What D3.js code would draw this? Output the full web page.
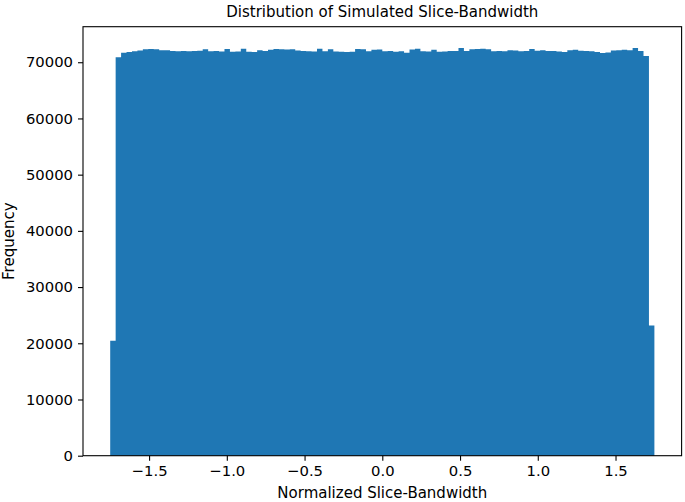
<!DOCTYPE html>
<html>
<head>
<meta charset="utf-8">
<script src="https://cdn.jsdelivr.net/npm/d3@7"></script>
<style>
  html, body { margin: 0; padding: 0; background: #fff; }
  svg { display: block; font-family: "DejaVu Sans", sans-serif; }
</style>
</head>
<body>
<svg id="chart" width="685" height="502"></svg>
<script>
// ---- data ----
const titleText = "Distribution of Simulated Slice-Bandwidth";
const xLabelText = "Normalized Slice-Bandwidth";
const yLabelText = "Frequency";
const binMin = -1.75;
const binMax = 1.75;
const counts = [
  20450, 70900, 71700, 71800, 71950, 72100, 72300, 72350, 72300, 72150,
  72150, 72000, 71950, 72000, 71950, 72000, 72050, 72300, 71950, 72000,
  71900, 72350, 71850, 71900, 72400, 71850, 71800, 72150, 72000, 72200,
  72350, 72300, 72250, 72300, 72100, 72000, 71950, 71900, 72400, 71950,
  72300, 71900, 71850, 71800, 71850, 72350, 72300, 71950, 72200, 72250,
  71950, 72000, 71850, 71950, 71700, 72250, 72400, 71950, 71900, 72200,
  71850, 71900, 72000, 72000, 72550, 72000, 72300, 72350, 72400, 72300,
  71950, 72000, 71950, 72150, 72100, 71950, 72000, 72350, 72050, 72150,
  72000, 72000, 71900, 71800, 72150, 72200, 72050, 72000, 71950, 71800,
  71650, 71750, 72100, 72150, 72200, 72150, 72550, 72000, 71100, 23150
];
const xTicks = [-1.5, -1.0, -0.5, 0.0, 0.5, 1.0, 1.5];
const yTicks = [0, 10000, 20000, 30000, 40000, 50000, 60000, 70000];

// ---- layout ----
const W = 685, H = 502;
const margin = { left: 83, right: 3.4, top: 26.7, bottom: 46.3 };
const iw = W - margin.left - margin.right;
const ih = H - margin.top - margin.bottom;
const color = "#1f77b4";

const svg = d3.select("#chart");
const g = svg.append("g").attr("transform", `translate(${margin.left},${margin.top})`);

const nb = counts.length;
const bw = (binMax - binMin) / nb;
const bins = counts.map((c, i) => ({ x0: binMin + i * bw, x1: binMin + (i + 1) * bw, c }));

const span = binMax - binMin;
const x = d3.scaleLinear()
  .domain([binMin - 0.05 * span, binMax + 0.05 * span])
  .range([0, iw]);
const y = d3.scaleLinear()
  .domain([0, d3.max(counts) * 1.052])
  .range([ih, 0]);

// bars (drawn as one stepped outline so no seams appear between bins)
const pts = [[x(bins[0].x0), y(0)]];
bins.forEach(d => { pts.push([x(d.x0), y(d.c)]); pts.push([x(d.x1), y(d.c)]); });
pts.push([x(bins[nb - 1].x1), y(0)]);
g.append("path")
  .attr("d", d3.line()(pts) + "Z")
  .attr("fill", color)
  .attr("stroke", "none");

// axes
const fmtX = d3.format(".1f");
const xAxis = g.append("g").attr("transform", `translate(0,${ih})`)
  .call(d3.axisBottom(x).tickValues(xTicks).tickFormat(fmtX).tickSizeOuter(0).tickSize(5).tickPadding(5));
const yAxis = g.append("g")
  .call(d3.axisLeft(y).tickValues(yTicks).tickFormat(d3.format("d")).tickSizeOuter(0).tickSize(5).tickPadding(5));

[xAxis, yAxis].forEach(a => {
  a.select(".domain").remove();
  a.selectAll(".tick line").attr("stroke", "#000").attr("stroke-width", 1.1);
  a.selectAll(".tick text").attr("fill", "#000").style("font-size", "14.8px").style("font-family", "DejaVu Sans, sans-serif");
});

// frame (spines)
g.append("rect")
  .attr("x", 0).attr("y", 0).attr("width", iw).attr("height", ih)
  .attr("fill", "none").attr("stroke", "#000").attr("stroke-width", 1.1);

// title & labels
svg.append("text")
  .attr("x", margin.left + iw / 2).attr("y", 17)
  .attr("text-anchor", "middle").style("font-size", "15px").attr("fill", "#000")
  .text(titleText);
svg.append("text")
  .attr("x", margin.left + iw / 2).attr("y", 498)
  .attr("text-anchor", "middle").style("font-size", "15px").attr("fill", "#000")
  .text(xLabelText);
svg.append("text")
  .attr("transform", `translate(14,${margin.top + ih / 2}) rotate(-90)`)
  .attr("text-anchor", "middle").style("font-size", "15px").attr("fill", "#000")
  .text(yLabelText);
</script>
</body>
</html>
